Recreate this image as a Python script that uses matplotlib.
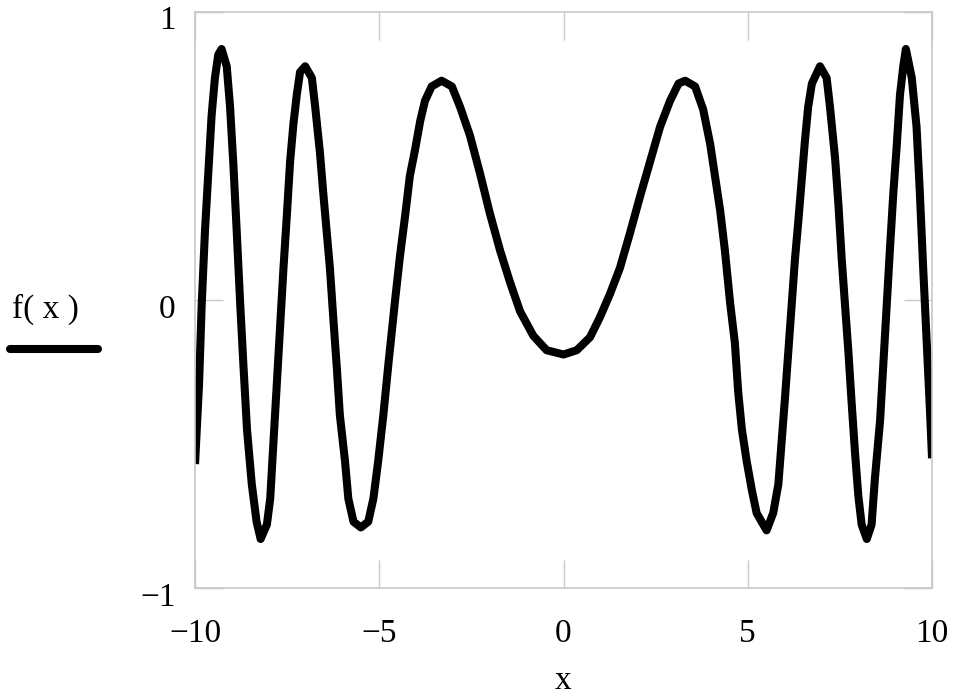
import matplotlib
matplotlib.use("Agg")
import matplotlib.pyplot as plt
from matplotlib.lines import Line2D
from matplotlib.transforms import ScaledTranslation

# f(x), left half then right half
x_left = [-10.00, -9.89, -9.82, -9.73, -9.64, -9.55, -9.46, -9.37, -9.28, -9.14,
          -9.05, -8.96, -8.87, -8.78, -8.69, -8.59, -8.46, -8.33, -8.22, -8.05,
          -7.96, -7.87, -7.78, -7.69, -7.60, -7.51, -7.42, -7.33, -7.24, -7.15,
          -7.01, -6.83, -6.74, -6.61, -6.52, -6.43, -6.34, -6.25, -6.15, -6.07,
          -5.93, -5.84, -5.70, -5.50, -5.30, -5.16, -5.03, -4.89, -4.75, -4.57,
          -4.44, -4.30, -4.17, -4.03, -3.89, -3.76, -3.58, -3.31, -3.03, -2.81,
          -2.54, -2.27, -2.00, -1.72, -1.45, -1.18, -0.82, -0.46, 0.00]
f_left = [-0.57, -0.29, -0.02, 0.24, 0.44, 0.64, 0.77, 0.85, 0.87, 0.81,
          0.67, 0.47, 0.24, 0.00, -0.22, -0.45, -0.64, -0.77, -0.83, -0.78,
          -0.69, -0.49, -0.29, -0.09, 0.11, 0.29, 0.48, 0.61, 0.71, 0.79,
          0.81, 0.77, 0.67, 0.51, 0.37, 0.24, 0.11, -0.06, -0.24, -0.40,
          -0.56, -0.69, -0.77, -0.79, -0.77, -0.69, -0.56, -0.40, -0.22, 0.00,
          0.15, 0.29, 0.43, 0.52, 0.62, 0.69, 0.74, 0.76, 0.74, 0.67,
          0.57, 0.44, 0.30, 0.17, 0.06, -0.04, -0.125, -0.175, -0.19]

x_right = [0.36, 0.72, 0.99, 1.26, 1.53, 1.80, 2.08, 2.35, 2.62, 2.89,
           3.12, 3.30, 3.57, 3.79, 3.98, 4.11, 4.25, 4.38, 4.52, 4.65,
           4.74, 4.84, 4.97, 5.11, 5.24, 5.51, 5.69, 5.83, 5.92, 6.01,
           6.10, 6.19, 6.28, 6.37, 6.46, 6.55, 6.64, 6.74, 6.96, 7.14,
           7.23, 7.37, 7.46, 7.55, 7.64, 7.73, 7.82, 7.91, 8.00, 8.09,
           8.23, 8.36, 8.45, 8.59, 8.68, 8.77, 8.86, 8.95, 9.04, 9.13,
           9.22, 9.29, 9.45, 9.58, 9.67, 9.76, 9.86, 9.95, 10.00]
f_right = [-0.175, -0.13, -0.06, 0.02, 0.11, 0.23, 0.36, 0.48, 0.60, 0.69,
           0.75, 0.76, 0.74, 0.66, 0.54, 0.43, 0.31, 0.17, -0.01, -0.15,
           -0.32, -0.45, -0.56, -0.66, -0.74, -0.80, -0.74, -0.64, -0.49, -0.34,
           -0.18, -0.02, 0.14, 0.27, 0.41, 0.55, 0.67, 0.75, 0.81, 0.77,
           0.67, 0.49, 0.33, 0.14, -0.02, -0.18, -0.36, -0.53, -0.68, -0.78,
           -0.83, -0.78, -0.62, -0.42, -0.22, -0.02, 0.18, 0.37, 0.53, 0.71,
           0.81, 0.87, 0.77, 0.60, 0.37, 0.11, -0.16, -0.40, -0.55]

xticks = [-10, -5, 0, 5, 10]
xtick_labels = ["\u221210", "\u22125", "0", "5", "10"]
yticks = [-1, 0, 1]
ytick_labels = ["\u22121", "0", "1"]

plt.rcParams['font.family'] = ['Liberation Serif', 'DejaVu Serif']

fig = plt.figure(figsize=(9.57, 6.98), dpi=100)
ax = fig.add_axes([0.2038, 0.1576, 0.7701, 0.8259])

ax.plot(x_left + x_right, f_left + f_right, color='black', lw=5.8,
        solid_joinstyle='round', solid_capstyle='butt')

ax.set_xlim(-10, 10)
ax.set_ylim(-1, 1)
ax.set_xticks(xticks)
ax.set_xticklabels(xtick_labels)
ax.set_yticks(yticks)
ax.set_yticklabels(ytick_labels)

frame = '#c8c8c8'
for s in ax.spines.values():
    s.set_color(frame)
    s.set_linewidth(1.2)
ax.tick_params(direction='in', length=20, width=1, color=frame,
               top=True, right=True, labelsize=24)
ax.tick_params(axis='x', pad=22)
ax.tick_params(axis='y', pad=14)

# mathcad puts the y labels a bit below their ticks
shift = ScaledTranslation(0, -0.06, fig.dpi_scale_trans)
for lab in ax.get_yticklabels():
    lab.set_transform(lab.get_transform() + shift)

ax.set_xlabel("x", fontsize=24, labelpad=12)

# Mathcad style trace label
fig.text(45 / 957, 1 - 309 / 698, "f( x )", fontsize=24, ha='center', va='center')
fig.add_artist(Line2D([10 / 957, 98 / 957], [1 - 349 / 698, 1 - 349 / 698],
                      color='black', lw=5.8, solid_capstyle='round',
                      transform=fig.transFigure))

fig.savefig("out.png", dpi=100)
